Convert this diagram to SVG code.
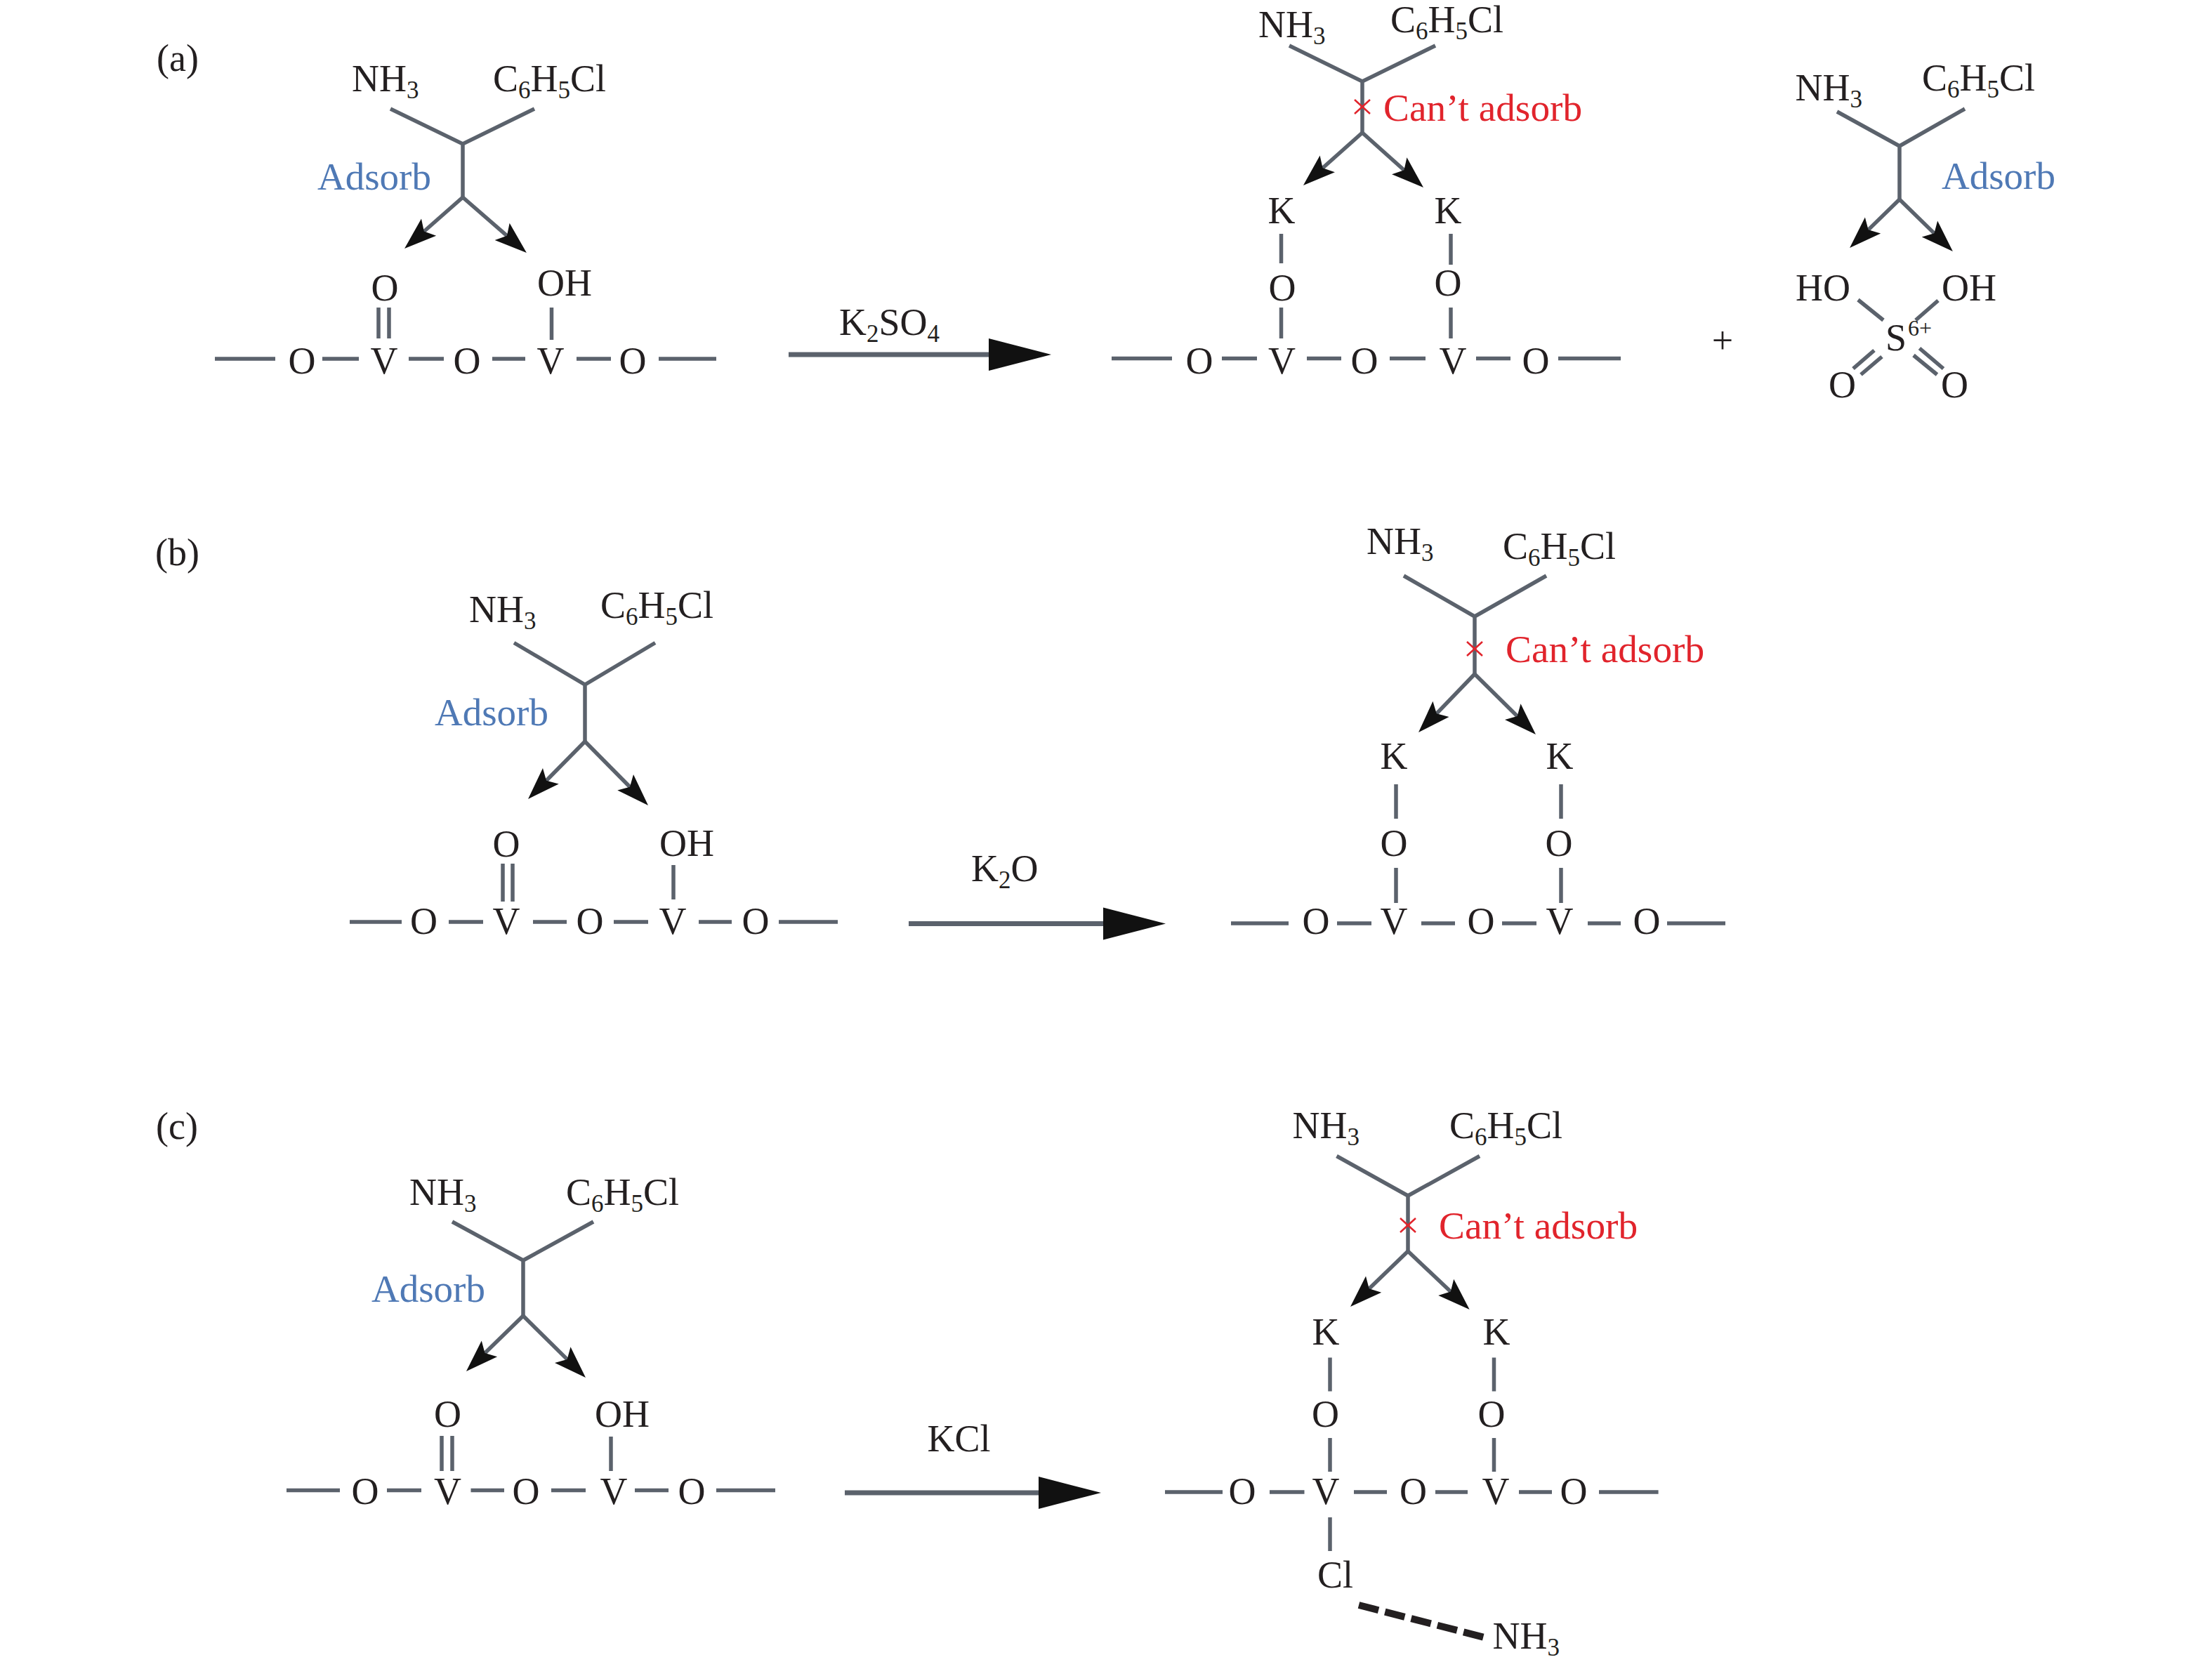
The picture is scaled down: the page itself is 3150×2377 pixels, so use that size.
<svg xmlns="http://www.w3.org/2000/svg" width="3150" height="2377" viewBox="0 0 3150 2377">
<style>
text{font-family:"Liberation Serif","Times New Roman",serif;font-size:54px;fill:#231f20}
.m{text-anchor:middle}
.s{font-size:35px}
.sup{font-size:32px}
.blue{fill:#4f79b5;font-size:55px}
.red{fill:#e1242c;font-size:55.3px}
.b{stroke:#5b626c;stroke-width:5.5;fill:none;stroke-linecap:butt}
.ar{marker-end:url(#h)}
.big{stroke-width:7;marker-end:url(#H)}
.x{stroke:#e1242c;stroke-width:2.5;fill:none}
.dash{stroke:#231f20;stroke-width:10;stroke-dasharray:29 9.5;fill:none}
</style>
<defs>
<marker id="h" markerUnits="userSpaceOnUse" markerWidth="50" markerHeight="44" refX="15" refY="22" orient="auto" overflow="visible"><path d="M40,22L-6,6L3,22L-6,38Z" fill="#111"/></marker>
<marker id="H" markerUnits="userSpaceOnUse" markerWidth="90" markerHeight="50" refX="0" refY="25" orient="auto" overflow="visible"><path d="M89,25L0,2V48Z" fill="#111"/></marker>
</defs>
<rect width="3150" height="2377" fill="#fff"/>
<g id="connectors">
<path class="b" d="M556,155L659,205L761,155M659,205V281"/>
<path class="b ar" d="M659,281L594.8,337.5"/><path class="b ar" d="M659,281L731,343.6"/>
<path class="b" d="M539,438V482M554,438V482M785.5,438V484M306,511H392M459,511H511M582,511H632M701,511H748M821,511H870M938,511H1020"/>
<path class="b big" d="M1123,505H1408"/>
<path class="b" d="M1836,65L1940,116L2044,65M1940,116V189"/>
<path class="b ar" d="M1940,189L1874.6,247.3"/><path class="b ar" d="M1940,189L2008.4,250.3"/>
<path class="b" d="M1824.5,333V375M2066,333V377M1824.5,438V482M2066,438V482M1583,510.5H1669M1740,510.5H1790M1861,510.5H1910M1979,510.5H2030M2102,510.5H2151M2219,510.5H2308"/>
<path class="x" d="M1929,142L1951,162M1951,142L1929,162"/>
<path class="b" d="M2616,159L2705,208L2798,155M2705,208V284"/>
<path class="b ar" d="M2705,284L2652,335.6"/><path class="b ar" d="M2705,284L2763,340.6"/>
<path class="b" d="M2646,427L2682,456M2760,428L2728,456M2669,499L2639,525M2680,508L2650,533.5M2733.5,496L2767.5,525M2725,506L2758.5,533.5"/>
<path class="b" d="M732,915.5L833,975L933,915.5M833,975V1056"/>
<path class="b ar" d="M833,1056L769.6,1120.2"/><path class="b ar" d="M833,1056L905.4,1129.2"/>
<path class="b" d="M716,1230V1284M730,1230V1284M959,1232V1281M498,1313H572M639,1313H688M759,1313H807M874,1313H923M995,1313H1042M1109,1313H1193"/>
<path class="b big" d="M1294,1315.5H1571"/>
<path class="b" d="M1999,820L2100,878L2202,820M2100,878V960"/>
<path class="b ar" d="M2100,960L2037.4,1025"/><path class="b ar" d="M2100,960L2169.2,1028.4"/>
<path class="b" d="M1988,1117V1166M2223,1117V1166M1988,1236V1286M2223,1236V1286M1753,1315H1835M1904,1315H1953M2024,1315H2072M2139,1315H2188M2261,1315H2308M2374,1315H2457"/>
<path class="x" d="M2089,914L2111,934M2111,914L2089,934"/>
<path class="b" d="M644,1740L745,1795L845,1740M745,1795V1874"/>
<path class="b ar" d="M745,1874L681.9,1935.5"/><path class="b ar" d="M745,1874L816.2,1944.4"/>
<path class="b" d="M629,2045V2095M644,2045V2095M870,2046V2095M408,2122.5H484M551,2122.5H600M670.5,2122.5H718M785,2122.5H834M904,2122.5H952M1020,2122.5H1104"/>
<path class="b big" d="M1203,2126H1479"/>
<path class="b" d="M1903.5,1646.5L2005,1703L2107,1646.5M2005,1703V1782"/>
<path class="b ar" d="M2005,1782L1941,1843.7"/><path class="b ar" d="M2005,1782L2074.5,1847.8"/>
<path class="b" d="M1894,1933.5V1981.5M2127.5,1933.5V1981.5M1894,2048V2096M2127.5,2048V2096M1894,2161V2209M1659,2125H1741M1808,2125H1857.5M1928,2125H1975M2044,2125H2090M2163,2125H2210M2277,2125H2361.6"/>
<path class="x" d="M1994,1735L2016,1755M2016,1735L1994,1755"/>
<path class="dash" d="M1935,2286L2114,2332"/>
</g>
<g id="panel-a-reactant">
<text x="223" y="101">(a)</text>
<text x="501" y="130">NH<tspan class="s" dy="10">3</tspan></text>
<text x="702" y="130">C<tspan class="s" dy="10">6</tspan><tspan dy="-10">H</tspan><tspan class="s" dy="10">5</tspan><tspan dy="-10">Cl</tspan></text>
<text class="blue" x="452" y="269.5">Adsorb</text>
<text class="m" x="548" y="428">O</text><text class="m" x="804" y="421">OH</text>
<text class="m" x="430" y="532">O</text><text class="m" x="547" y="532">V</text><text class="m" x="665" y="532">O</text><text class="m" x="784" y="532">V</text><text class="m" x="901" y="532">O</text>
</g>
<g id="panel-a-reagent"><text x="1195" y="477">K<tspan class="s" dy="10">2</tspan><tspan dy="-10">SO</tspan><tspan class="s" dy="10">4</tspan></text></g>
<g id="panel-a-product">
<text x="1792" y="53">NH<tspan class="s" dy="10">3</tspan></text>
<text x="1980" y="46">C<tspan class="s" dy="10">6</tspan><tspan dy="-10">H</tspan><tspan class="s" dy="10">5</tspan><tspan dy="-10">Cl</tspan></text>
<text class="red" x="1970" y="172">Can’t adsorb</text>
<text class="m" x="1825" y="318">K</text><text class="m" x="2062" y="318">K</text>
<text class="m" x="1826" y="428">O</text><text class="m" x="2062" y="421">O</text>
<text class="m" x="1708" y="532">O</text><text class="m" x="1825.5" y="532">V</text><text class="m" x="1943" y="532">O</text><text class="m" x="2069" y="532">V</text><text class="m" x="2187" y="532">O</text>
</g>
<g id="panel-a-sulfate">
<text class="m" x="2453" y="503">+</text>
<text x="2556.5" y="143">NH<tspan class="s" dy="10">3</tspan></text>
<text x="2737" y="129">C<tspan class="s" dy="10">6</tspan><tspan dy="-10">H</tspan><tspan class="s" dy="10">5</tspan><tspan dy="-10">Cl</tspan></text>
<text class="blue" x="2765" y="268.5">Adsorb</text>
<text class="m" x="2596" y="428">HO</text><text class="m" x="2804" y="428">OH</text>
<text class="m" x="2700" y="499">S</text><text class="sup" x="2717" y="478">6+</text>
<text class="m" x="2623.5" y="566">O</text><text class="m" x="2783.6" y="566">O</text>
</g>
<g id="panel-b-reactant">
<text x="221" y="805">(b)</text>
<text x="668" y="886">NH<tspan class="s" dy="10">3</tspan></text>
<text x="855" y="880">C<tspan class="s" dy="10">6</tspan><tspan dy="-10">H</tspan><tspan class="s" dy="10">5</tspan><tspan dy="-10">Cl</tspan></text>
<text class="blue" x="619" y="1033">Adsorb</text>
<text class="m" x="721" y="1220">O</text><text class="m" x="978" y="1219">OH</text>
<text class="m" x="603.5" y="1330">O</text><text class="m" x="721" y="1330">V</text><text class="m" x="840" y="1330">O</text><text class="m" x="958" y="1330">V</text><text class="m" x="1076" y="1330">O</text>
</g>
<g id="panel-b-reagent"><text x="1383" y="1254.5">K<tspan class="s" dy="10">2</tspan><tspan dy="-10">O</tspan></text></g>
<g id="panel-b-product">
<text x="1946" y="789">NH<tspan class="s" dy="10">3</tspan></text>
<text x="2140" y="796">C<tspan class="s" dy="10">6</tspan><tspan dy="-10">H</tspan><tspan class="s" dy="10">5</tspan><tspan dy="-10">Cl</tspan></text>
<text class="red" x="2144" y="943">Can’t adsorb</text>
<text class="m" x="1985" y="1095">K</text><text class="m" x="2221" y="1095">K</text>
<text class="m" x="1985" y="1219">O</text><text class="m" x="2220" y="1219">O</text>
<text class="m" x="1874" y="1330">O</text><text class="m" x="1985" y="1330">V</text><text class="m" x="2109" y="1330">O</text><text class="m" x="2221" y="1330">V</text><text class="m" x="2345" y="1330">O</text>
</g>
<g id="panel-c-reactant">
<text x="222" y="1622">(c)</text>
<text x="583" y="1716">NH<tspan class="s" dy="10">3</tspan></text>
<text x="806" y="1716">C<tspan class="s" dy="10">6</tspan><tspan dy="-10">H</tspan><tspan class="s" dy="10">5</tspan><tspan dy="-10">Cl</tspan></text>
<text class="blue" x="529" y="1853.5">Adsorb</text>
<text class="m" x="637.5" y="2032">O</text><text class="m" x="886" y="2032">OH</text>
<text class="m" x="520" y="2142">O</text><text class="m" x="637.5" y="2142">V</text><text class="m" x="749" y="2142">O</text><text class="m" x="874" y="2142">V</text><text class="m" x="985" y="2142">O</text>
</g>
<g id="panel-c-reagent"><text x="1320.5" y="2067">KCl</text></g>
<g id="panel-c-product">
<text x="1840.5" y="1621">NH<tspan class="s" dy="10">3</tspan></text>
<text x="2064" y="1621">C<tspan class="s" dy="10">6</tspan><tspan dy="-10">H</tspan><tspan class="s" dy="10">5</tspan><tspan dy="-10">Cl</tspan></text>
<text class="red" x="2049" y="1764">Can’t adsorb</text>
<text class="m" x="1888" y="1915">K</text><text class="m" x="2131" y="1915">K</text>
<text class="m" x="1887.5" y="2032">O</text><text class="m" x="2124" y="2032">O</text>
<text class="m" x="1769" y="2142">O</text><text class="m" x="1888" y="2142">V</text><text class="m" x="2012.6" y="2142">O</text><text class="m" x="2130" y="2142">V</text><text class="m" x="2241" y="2142">O</text>
<text x="1876" y="2261">Cl</text>
<text x="2125.6" y="2348">NH<tspan class="s" dy="10">3</tspan></text>
</g>
</svg>
